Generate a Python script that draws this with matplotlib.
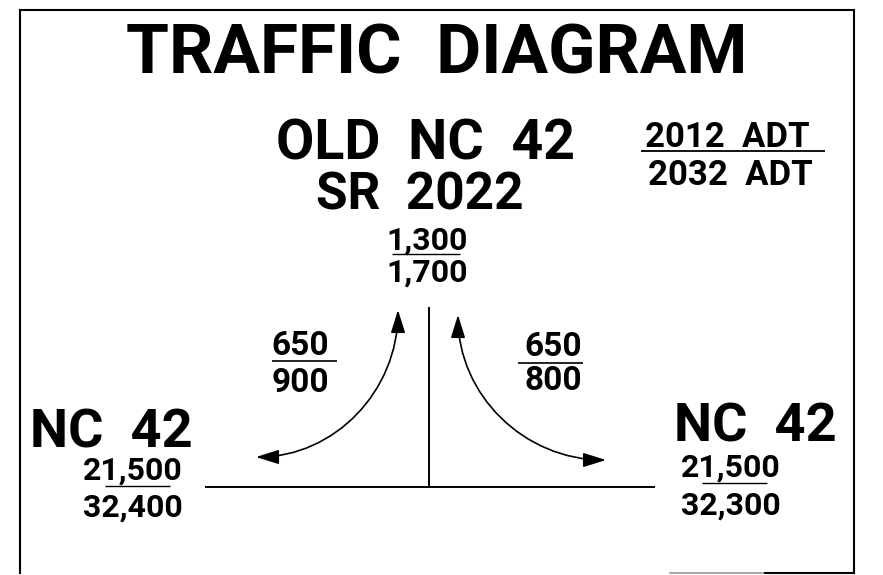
import matplotlib.pyplot as plt
from matplotlib.patches import FancyArrowPatch
from matplotlib.path import Path

# --- data ---
title = "TRAFFIC  DIAGRAM"
legend_years = ["2012  ADT", "2032  ADT"]
approach_names = ["OLD  NC  42\nSR  2022", "NC  42", "NC  42"]
adt_2012 = ["1,300", "21,500", "21,500"]
adt_2032 = ["1,700", "32,400", "32,300"]
turn_2012 = ["650", "650"]
turn_2032 = ["900", "800"]

FONT = "Roboto"
WEIGHT = "bold"
W, H = 883, 575

fig = plt.figure(figsize=(W / 100, H / 100), dpi=100)
ax = fig.add_axes([0, 0, 1, 1])
ax.set_xlim(0, W)
ax.set_ylim(H, 0)
ax.axis("off")

def txt(x, y, s, size, ha="center"):
    ax.text(x, y, s, fontsize=size, fontweight=WEIGHT, family=FONT,
            ha=ha, va="baseline", color="black")

def bar(x0, x1, y, lw=1.3):
    ax.plot([x0, x1], [y, y], color="black", lw=lw, solid_capstyle="butt")

# --- frame ---
ax.plot([20, 20], [10, 573], color="black", lw=1.5)
ax.plot([20, 854], [10, 10], color="black", lw=1.5)
ax.plot([854, 854], [10, 573], color="black", lw=1.5)
ax.plot([670, 765], [573, 573], color="#999999", lw=1.2)
ax.plot([765, 854], [573, 573], color="black", lw=1.5)

# --- title and legend ---
txt(437, 74, title, 50)
txt(727, 147, legend_years[0], 25)
bar(641, 825, 151)
txt(730, 185, legend_years[1], 25)

# --- approach names ---
name_lines = approach_names[0].split("\n")
txt(425, 160, name_lines[0], 40)
txt(420, 210, name_lines[1], 37)
txt(111, 448, approach_names[1], 39)
txt(755, 442, approach_names[2], 39)

# --- approach volumes ---
vol_pos = [(427, 250, 282, 392, 460, 254),
           (133, 480, 517, 105, 170, 486),
           (731, 477, 515, 702, 767, 483)]
for (x, y1, y2, u0, u1, uy), a, b in zip(vol_pos, adt_2012, adt_2032):
    txt(x, y1, a, 23)
    txt(x, y2, b, 23)
    bar(u0, u1, uy, lw=1.0)

# --- turn volumes ---
turn_pos = [(300, 355, 392, 272, 337, 361),
            (553, 356, 390, 518, 583, 363)]
for (x, y1, y2, u0, u1, uy), a, b in zip(turn_pos, turn_2012, turn_2032):
    txt(x, y1, a, 24)
    txt(x, y2, b, 24)
    bar(u0, u1, uy, lw=1.2)

# --- road lines ---
ax.plot([429, 429], [308, 487], color="black", lw=1.4)
ax.plot([206, 654], [487, 487], color="black", lw=1.4)

# --- turning arcs (quarter ellipses) ---
k = 0.5523
def quarter(top, side):
    (xt, yt), (xs, ys) = top, side
    verts = [(xt, yt), (xt, yt + k * (ys - yt)), (xs + k * (xt - xs), ys), (xs, ys)]
    return Path(verts, [Path.MOVETO, Path.CURVE4, Path.CURVE4, Path.CURVE4])

for top, side in [((398, 310), (256, 457)), ((458, 315), (606, 460))]:
    arr = FancyArrowPatch(path=quarter(top, side),
                          arrowstyle="<|-|>,head_length=7,head_width=2.2",
                          color="black", lw=1.2, mutation_scale=2)
    ax.add_patch(arr)

fig.savefig("out.png", dpi=100)
